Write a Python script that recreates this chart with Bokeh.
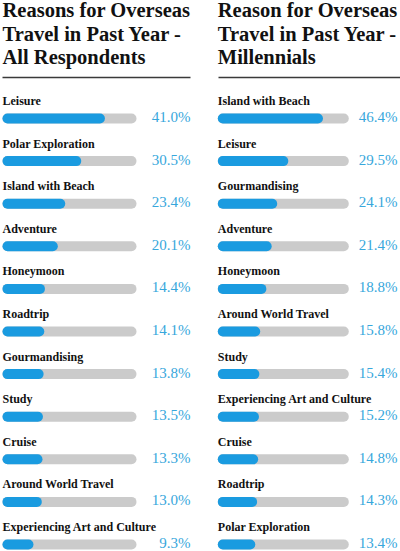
from bokeh.plotting import figure
from bokeh.layouts import row
from bokeh.models import Range1d, ColumnDataSource
from bokeh.core.properties import value
from bokeh.embed import file_html
from bokeh.resources import INLINE

# Survey results: share of respondents naming each reason (%)
all_reasons = ["Leisure", "Polar Exploration", "Island with Beach", "Adventure",
               "Honeymoon", "Roadtrip", "Gourmandising", "Study", "Cruise",
               "Around World Travel", "Experiencing Art and Culture"]
all_pct = [41.0, 30.5, 23.4, 20.1, 14.4, 14.1, 13.8, 13.5, 13.3, 13.0, 9.3]

mil_reasons = ["Island with Beach", "Leisure", "Gourmandising", "Adventure",
               "Honeymoon", "Around World Travel", "Study",
               "Experiencing Art and Culture", "Cruise", "Roadtrip",
               "Polar Exploration"]
mil_pct = [46.4, 29.5, 24.1, 21.4, 18.8, 15.8, 15.4, 15.2, 14.8, 14.3, 13.4]

all_title = ["Reasons for Overseas", "Travel in Past Year -", "All Respondents"]
mil_title = ["Reason for Overseas", "Travel in Past Year -", "Millennials"]

# full length of the grey track, in percent
track_max = [55, 59]

W, H = 200, 551
ROW0, PITCH = 118.0, 42.6        # first bar centre and row spacing (px)
BAR = 10                          # bar thickness (px)
BLUE, GREY, PCT = "#1a9be0", "#cbcbcb", "#37a7dc"
SERIF = "Liberation Serif"


def make_panel(title, reasons, pct, tmax, left_px, track_end_px, pct_right_px, rule_x):
    x0 = left_px + BAR / 2
    k = (track_end_px - BAR / 2 - x0) / tmax        # px per percent
    xr = Range1d(-x0 / k, (W - x0) / k)
    yr = Range1d((H - ROW0) / PITCH, -ROW0 / PITCH)  # rows run top to bottom

    def px_x(px):
        return (px - x0) / k

    def px_y(py):
        return (py - ROW0) / PITCH

    p = figure(width=W, height=H, x_range=xr, y_range=yr,
               x_axis_location=None, y_axis_location=None,
               toolbar_location=None, output_backend="svg", min_border=0)
    p.outline_line_color = None
    p.grid.visible = False
    p.background_fill_color = "white"
    p.border_fill_color = "white"

    rows = list(range(len(reasons)))
    src = ColumnDataSource(dict(
        y=rows, zero=[0] * len(rows), full=[tmax] * len(rows), pct=pct,
        name=reasons, lab=[f"{v:.1f}%" for v in pct],
        name_y=[r + px_y(ROW0 - 17.5) for r in rows],
        pct_y=[r + px_y(ROW0 - 1.5) for r in rows],
    ))

    p.segment(x0="zero", y0="y", x1="full", y1="y", source=src,
              line_width=BAR, line_cap="round", line_color=GREY)
    p.segment(x0="zero", y0="y", x1="pct", y1="y", source=src,
              line_width=BAR, line_cap="round", line_color=BLUE)

    p.text(x=px_x(left_px), y="name_y", text="name", source=src,
           text_font=value(SERIF), text_font_style="bold",
           text_font_size="12px", text_color="#111111",
           text_baseline="alphabetic", text_align="left")
    p.text(x=px_x(pct_right_px), y="pct_y", text="lab", source=src,
           text_font=value(SERIF), text_font_size="15px",
           text_color=PCT, text_baseline="alphabetic", text_align="right")

    # headline
    p.text(x=[px_x(left_px)] * 3, y=[px_y(b) for b in (9.5, 33, 56.5)],
           text=title, text_font=value(SERIF), text_font_style="bold",
           text_font_size="20.5px", text_color="#111111",
           text_baseline="alphabetic", text_align="left")
    # rule under the headline
    p.segment(x0=[px_x(rule_x[0])], y0=[px_y(77)], x1=[px_x(rule_x[1])],
              y1=[px_y(77)], line_width=1.5, line_color="#3a3a3a")
    return p


left = make_panel(all_title, all_reasons, all_pct, track_max[0],
                  2, 136, 190, (2, 190))
right = make_panel(mil_title, mil_reasons, mil_pct, track_max[1],
                   17.3, 148.3, 197, (18, 200))

layout = row(left, right)
open("out.html", "w").write(file_html(layout, INLINE))
